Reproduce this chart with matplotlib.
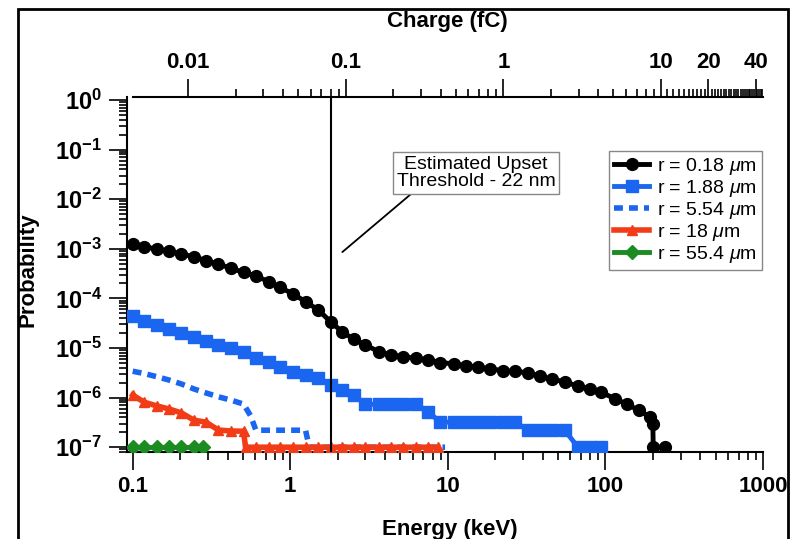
import matplotlib
matplotlib.use('Agg')
import matplotlib.pyplot as plt
from matplotlib.ticker import FixedLocator, FixedFormatter, LogLocator, NullFormatter
from matplotlib.patches import Rectangle

plt.rcParams['font.family'] = ['Liberation Sans Narrow', 'Liberation Sans', 'DejaVu Sans']
plt.rcParams['mathtext.fontset'] = 'custom'
plt.rcParams['mathtext.rm'] = 'Liberation Sans'
plt.rcParams['mathtext.it'] = 'Liberation Sans:italic'
plt.rcParams['mathtext.bf'] = 'Liberation Sans:bold'

# r = 0.18 um
energy_black = [0.1, 0.118, 0.142, 0.17, 0.204, 0.245, 0.292, 0.349, 0.42, 0.505,
                0.605, 0.728, 0.863, 1.04, 1.25, 1.51, 1.8, 2.13, 2.53, 3.0,
                3.65, 4.38, 5.22, 6.25, 7.49, 8.93, 10.9, 13.0, 15.5, 18.6,
                22.3, 26.7, 32.2, 38.2, 45.7, 55.1, 67.0, 79.4, 94.4, 115,
                138, 163, 191, 200, 201, 239]
prob_black = [1.25e-3, 1.10e-3, 9.9e-4, 9.0e-4, 7.85e-4, 6.9e-4, 5.75e-4, 4.95e-4, 4.05e-4, 3.35e-4,
              2.85e-4, 2.17e-4, 1.67e-4, 1.23e-4, 8.6e-5, 5.8e-5, 3.4e-5, 2.13e-5, 1.5e-5, 1.15e-5,
              8.4e-6, 7.2e-6, 6.7e-6, 6.2e-6, 5.8e-6, 5.1e-6, 4.8e-6, 4.4e-6, 4.05e-6, 3.8e-6,
              3.5e-6, 3.36e-6, 3.18e-6, 2.7e-6, 2.35e-6, 2.09e-6, 1.69e-6, 1.52e-6, 1.27e-6, 9.5e-7,
              7.3e-7, 5.5e-7, 4.1e-7, 3.0e-7, 1e-7, 1e-7]

# r = 1.88 um
energy_blue = [0.1, 0.118, 0.142, 0.17, 0.204, 0.245, 0.292, 0.349, 0.42, 0.505,
               0.605, 0.728, 0.863, 1.04, 1.25, 1.51, 1.8, 2.13, 2.53, 3.0,
               3.65, 4.38, 5.22, 6.25, 7.49, 8.93, 10.9, 13.0, 15.5, 18.6,
               22.3, 26.7, 32.2, 38.2, 45.7, 55.1, 67.0, 79.4, 94.4]
prob_blue = [4.4e-5, 3.5e-5, 2.95e-5, 2.4e-5, 2.03e-5, 1.69e-5, 1.38e-5, 1.15e-5, 9.9e-6, 8.3e-6,
             6.3e-6, 5.2e-6, 4.2e-6, 3.33e-6, 2.86e-6, 2.45e-6, 1.8e-6, 1.42e-6, 1.13e-6, 7.3e-7,
             7.3e-7, 7.3e-7, 7.3e-7, 7.3e-7, 5.2e-7, 3.2e-7, 3.2e-7, 3.2e-7, 3.2e-7, 3.2e-7,
             3.2e-7, 3.2e-7, 2.2e-7, 2.2e-7, 2.2e-7, 2.2e-7, 1e-7, 1e-7, 1e-7]

# r = 5.54 um
energy_dash = [0.1, 0.118, 0.142, 0.17, 0.204, 0.245, 0.292, 0.349, 0.42, 0.505,
               0.56, 0.605, 0.728, 0.863, 1.04, 1.25, 1.32, 1.8, 2.53, 3.65,
               5.22, 7.49, 9.6]
prob_dash = [3.4e-6, 3.06e-6, 2.64e-6, 2.26e-6, 1.88e-6, 1.49e-6, 1.24e-6, 1.04e-6, 8.9e-7, 7.4e-7,
             4.3e-7, 2.2e-7, 2.2e-7, 2.2e-7, 2.2e-7, 2.2e-7, 1e-7, 1e-7, 1e-7, 1e-7,
             1e-7, 1e-7, 1e-7]

# r = 18 um
energy_red = [0.1, 0.118, 0.142, 0.17, 0.204, 0.245, 0.292, 0.349, 0.42, 0.505,
              0.52, 0.605, 0.728, 0.863, 1.04, 1.25, 1.51, 1.8, 2.13, 2.53,
              3.0, 3.65, 4.38, 5.22, 6.25, 7.49, 8.6]
prob_red = [1.13e-6, 8.1e-7, 6.8e-7, 5.9e-7, 4.9e-7, 3.5e-7, 3.2e-7, 2.22e-7, 2.12e-7, 2.1e-7,
            1e-7, 1e-7, 1e-7, 1e-7, 1e-7, 1e-7, 1e-7, 1e-7, 1e-7, 1e-7,
            1e-7, 1e-7, 1e-7, 1e-7, 1e-7, 1e-7, 1e-7]

# r = 55.4 um
energy_green = [0.1, 0.118, 0.142, 0.17, 0.204, 0.245, 0.28]
prob_green = [1e-7, 1e-7, 1e-7, 1e-7, 1e-7, 1e-7, 1e-7]

threshold_kev = 1.8
kev_per_fc = 22.5

x_ticks = [0.1, 1, 10, 100, 1000]
x_labels = ['0.1', '1', '10', '100', '1000']
y_ticks = [1e-7, 1e-6, 1e-5, 1e-4, 1e-3, 1e-2, 1e-1, 1e0]
y_labels = [r'$\mathbf{10^{-7}}$', r'$\mathbf{10^{-6}}$', r'$\mathbf{10^{-5}}$', r'$\mathbf{10^{-4}}$',
            r'$\mathbf{10^{-3}}$', r'$\mathbf{10^{-2}}$', r'$\mathbf{10^{-1}}$', r'$\mathbf{10^{0}}$']
q_ticks = [0.01, 0.1, 1, 10, 20, 40]
q_labels = ['0.01', '0.1', '1', '10', '20', '40']

BLUE = '#1a66f0'
RED = '#f23c18'
GREEN = '#1c8c22'

fig = plt.figure(figsize=(7.95, 5.39), dpi=100)
ax = fig.add_axes([127 / 795, 1 - 452 / 539, 636 / 795, 355 / 539])

ax.plot(energy_dash, prob_dash, color=BLUE, lw=4, linestyle=(0, (1.6, 1.1)), label=r'r = 5.54 $\mu$m', zorder=2)
ax.plot(energy_red, prob_red, color=RED, lw=4, marker='^', ms=6.5, label=r'r = 18 $\mu$m', zorder=3)
ax.plot(energy_green, prob_green, color=GREEN, lw=3.5, marker='D', ms=7.5, label=r'r = 55.4 $\mu$m', zorder=4)
ax.plot(energy_blue, prob_blue, color=BLUE, lw=3.5, marker='s', ms=8, label=r'r = 1.88 $\mu$m', zorder=5)
ax.plot(energy_black, prob_black, color='black', lw=3.5, marker='o', ms=8.5, label=r'r = 0.18 $\mu$m', zorder=6)

ax.axvline(threshold_kev, color='black', lw=1.5, zorder=7)

ax.set_xscale('log')
ax.set_yscale('log')
ax.set_xlim(0.092, 1000)
ax.set_ylim(8.0e-8, 1.15)

ax.xaxis.set_major_locator(FixedLocator(x_ticks))
ax.xaxis.set_major_formatter(FixedFormatter(x_labels))
ax.xaxis.set_minor_locator(LogLocator(base=10, subs=range(2, 10), numticks=20))
ax.xaxis.set_minor_formatter(NullFormatter())
ax.yaxis.set_major_locator(FixedLocator(y_ticks))
ax.yaxis.set_major_formatter(FixedFormatter(y_labels))
ax.yaxis.set_minor_locator(LogLocator(base=10, subs=range(2, 10), numticks=20))
ax.yaxis.set_minor_formatter(NullFormatter())

ax.tick_params(which='major', direction='out', length=13, width=1.2, labelsize=16, pad=4)
ax.tick_params(which='minor', direction='out', length=6, width=1.2)
ax.tick_params(axis='y', labelsize=17, pad=5)
for lab in ax.get_xticklabels():
    lab.set_fontweight('bold')

for s in ['top', 'right']:
    ax.spines[s].set_visible(False)
for s in ['left', 'bottom']:
    ax.spines[s].set_linewidth(1.5)

# charge axis on top
secax = ax.secondary_xaxis('top', functions=(lambda e: e / kev_per_fc, lambda q: q * kev_per_fc))
secax.xaxis.set_major_locator(FixedLocator(q_ticks))
secax.xaxis.set_major_formatter(FixedFormatter(q_labels))
q_minor = [m * d for d in [0.01, 0.1, 1] for m in range(2, 10)] + [v for v in range(11, 45) if v not in (20, 40)]
secax.xaxis.set_minor_locator(FixedLocator(q_minor))
secax.xaxis.set_minor_formatter(NullFormatter())
secax.tick_params(which='major', direction='out', length=13, width=1.2, labelsize=16, pad=4)
secax.tick_params(which='minor', direction='out', length=6, width=1.2)
secax.spines['top'].set_linewidth(1.5)
secax.spines['top'].set_bounds(0.1 / kev_per_fc, 1000 / kev_per_fc)
for lab in secax.get_xticklabels():
    lab.set_fontweight('bold')

handles, labels = ax.get_legend_handles_labels()
order = [4, 3, 0, 1, 2]
leg = ax.legend([handles[i] for i in order], [labels[i] for i in order],
                loc='upper right', bbox_to_anchor=(0.998, 0.848), borderaxespad=0, fontsize=14,
                handlelength=1.8, handletextpad=0.4, labelspacing=0.05,
                borderpad=0.25, fancybox=False, framealpha=1, edgecolor='#888888')
leg.get_frame().set_linewidth(1)

ax.annotate('Estimated Upset\nThreshold - 22 nm', xy=(2.14, 8.6e-4), xytext=(15.1, 0.0337),
            ha='center', va='center', fontsize=14, linespacing=1.0,
            bbox=dict(boxstyle='square,pad=0.2', fc='white', ec='#888888', lw=1),
            arrowprops=dict(arrowstyle='-', color='black', lw=1.3, relpos=(0.12, 0),
                            shrinkA=0, shrinkB=0), zorder=8)

fig.text(447 / 795, 1 - 21 / 539, 'Charge (fC)', ha='center', va='center', fontsize=16, fontweight='bold')
fig.text(450 / 795, 1 - 530 / 539, 'Energy (keV)', ha='center', va='center', fontsize=16, fontweight='bold')
fig.text(28 / 795, 1 - 270 / 539, 'Probability', ha='center', va='center', rotation=90,
         fontsize=16, fontweight='bold')

fig.patches.append(Rectangle((18 / 795, -0.1), 770 / 795, 1.1 - 9 / 539, transform=fig.transFigure,
                             fill=False, ec='black', lw=2))

fig.savefig('out.png', dpi=100)
